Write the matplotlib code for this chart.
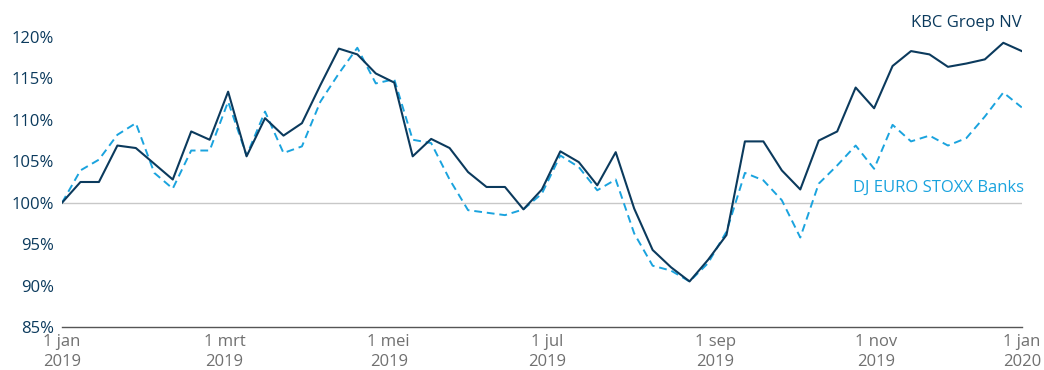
import matplotlib
matplotlib.use("Agg")
import matplotlib.pyplot as plt
import numpy as np

# weekly index values, 1 jan 2019 = 100%
kbc = [100.0, 102.5, 102.5, 106.9, 106.6, 104.7, 102.8, 108.6, 107.6, 113.4,
       105.6, 110.2, 108.1, 109.6, 114.2, 118.6, 117.9, 115.6, 114.5, 105.6,
       107.7, 106.6, 103.7, 101.9, 101.9, 99.2, 101.6, 106.2, 104.9, 102.1,
       106.1, 99.3, 94.3, 92.2, 90.5, 93.1, 96.1, 107.4, 107.4, 103.9,
       101.6, 107.5, 108.6, 113.9, 111.4, 116.5, 118.3, 117.9, 116.4, 116.8,
       117.3, 119.3, 118.3]
stoxx = [100.0, 103.9, 105.2, 108.2, 109.6, 103.6, 101.7, 106.3, 106.3, 112.2,
         105.7, 111.0, 106.0, 106.8, 112.2, 115.6, 118.7, 114.4, 114.9, 107.6,
         107.2, 102.8, 99.1, 98.8, 98.5, 99.2, 101.1, 105.7, 104.3, 101.5,
         102.8, 96.3, 92.4, 91.8, 90.5, 92.7, 96.5, 103.6, 102.7, 100.3,
         95.8, 102.3, 104.5, 106.9, 104.1, 109.4, 107.4, 108.1, 106.9, 107.8,
         110.4, 113.3, 111.5]

tick_pos = [0, 8.8, 17.7, 26.3, 35.4, 44.1, 52]
tick_labels = ["1 jan\n2019", "1 mrt\n2019", "1 mei\n2019", "1 jul\n2019",
               "1 sep\n2019", "1 nov\n2019", "1 jan\n2020"]
y_ticks = [85, 90, 95, 100, 105, 110, 115, 120]

navy = '#0b3a5d'
light = '#1aa3de'

plt.rcParams['font.family'] = ['Open Sans', 'DejaVu Sans']

fig = plt.figure(figsize=(10.44, 3.70), dpi=100)
ax = fig.add_axes([0.0594, 0.1162, 0.9193, 0.7838])

x = np.arange(len(kbc))
ax.axhline(100, color='#c8c8c8', lw=1.0, zorder=1)
ax.plot(x, stoxx, color=light, lw=1.4, dashes=(4, 2.5), zorder=2)
ax.plot(x, kbc, color=navy, lw=1.5, zorder=3)

ax.set_xlim(0, len(kbc) - 1)
ax.set_ylim(85, 120)
ax.set_yticks(y_ticks)
ax.set_yticklabels([f"{v}%" for v in y_ticks])
ax.set_xticks(tick_pos)
ax.set_xticklabels(tick_labels, linespacing=1.35)

for s in ['top', 'right', 'left']:
    ax.spines[s].set_visible(False)
ax.spines['bottom'].set_color('#555555')
ax.spines['bottom'].set_linewidth(1.0)

ax.tick_params(axis='y', length=0, pad=6, labelsize=12, labelcolor=navy)
ax.tick_params(axis='x', length=0, pad=5, labelsize=12, labelcolor='#707070')

ax.text(52, 121.7, "KBC Groep NV", color=navy, fontsize=12, ha='right',
        va='center', clip_on=False)
ax.text(52.1, 101.8, "DJ EURO STOXX Banks", color=light, fontsize=12,
        ha='right', va='center', clip_on=False)

fig.savefig("out.png", dpi=100)
